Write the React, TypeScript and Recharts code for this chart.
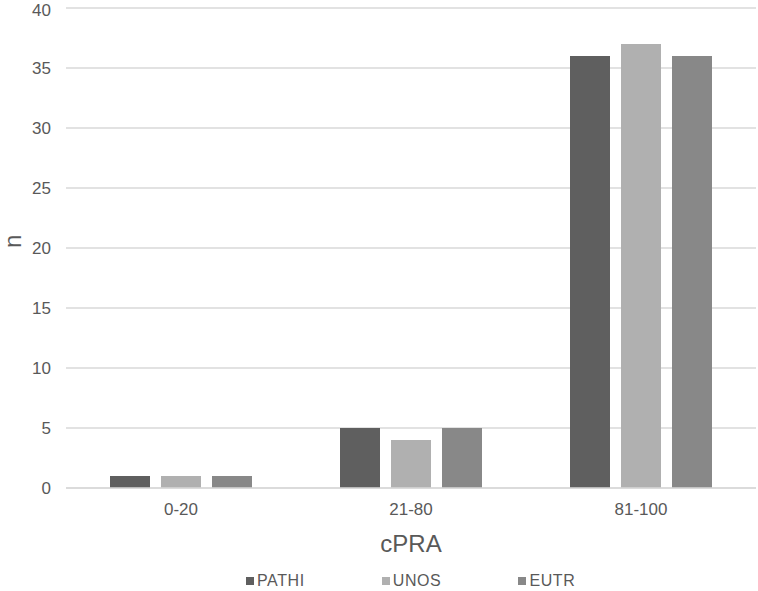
import React from 'react'
import { BarChart, Bar, CartesianGrid, XAxis, YAxis } from 'recharts'

const categories = ['0-20', '21-80', '81-100']
const pathi = [1, 5, 36]
const unos = [1, 4, 37]
const eutr = [1, 5, 36]
const yTicks = [0, 5, 10, 15, 20, 25, 30, 35, 40]

const series = [
  { key: 'PATHI', color: '#5f5f5f' },
  { key: 'UNOS', color: '#b0b0b0' },
  { key: 'EUTR', color: '#888888' },
]

const data = categories.map((name, i) => ({
  name,
  PATHI: pathi[i],
  UNOS: unos[i],
  EUTR: eutr[i],
}))

const font = '"Liberation Sans", Arial, sans-serif'

const LegendRow = () => (
  <div style={{ position: 'absolute', left: 246, top: 572, display: 'flex', gap: 77, fontFamily: font, fontSize: 16, color: '#595959' }}>
    {series.map((s) => (
      <div key={s.key} style={{ display: 'flex', alignItems: 'center' }}>
        <span style={{ width: 8, height: 8, background: s.color, display: 'inline-block', marginRight: 3 }} />
        <span style={{ letterSpacing: 0.6 }}>{s.key}</span>
      </div>
    ))}
  </div>
)

const App: React.FC = () => {
  return (
    <div style={{ position: 'absolute', left: 0, top: 0, width: 758, height: 591 }}>
      <BarChart width={758} height={591} data={data} barSize={40} barGap={11}
        margin={{ top: 8, right: 2, left: 0, bottom: 73 }}>
        <CartesianGrid vertical={false} stroke="#d9d9d9" strokeWidth={1.5} />
        <XAxis dataKey="name" height={30} axisLine={{ stroke: '#d9d9d9', strokeWidth: 1.5 }} tickLine={false}
          tick={{ fill: '#595959', fontSize: 17, fontFamily: font }} tickMargin={9}
          label={{ value: 'cPRA', position: 'insideBottom', offset: -34, fill: '#595959', fontSize: 24, fontFamily: font }} />
        <YAxis width={66} domain={[0, 40]} ticks={yTicks} axisLine={false} tickLine={false}
          tick={{ fill: '#595959', fontSize: 17, fontFamily: font }} tickMargin={9}
          label={{ value: 'n', angle: -90, position: 'insideLeft', offset: 12, fill: '#595959', fontSize: 24, fontFamily: font }} />
        {series.map((s) => (
          <Bar key={s.key} dataKey={s.key} fill={s.color} isAnimationActive={false} />
        ))}
      </BarChart>
      <LegendRow />
    </div>
  )
}

export default App
